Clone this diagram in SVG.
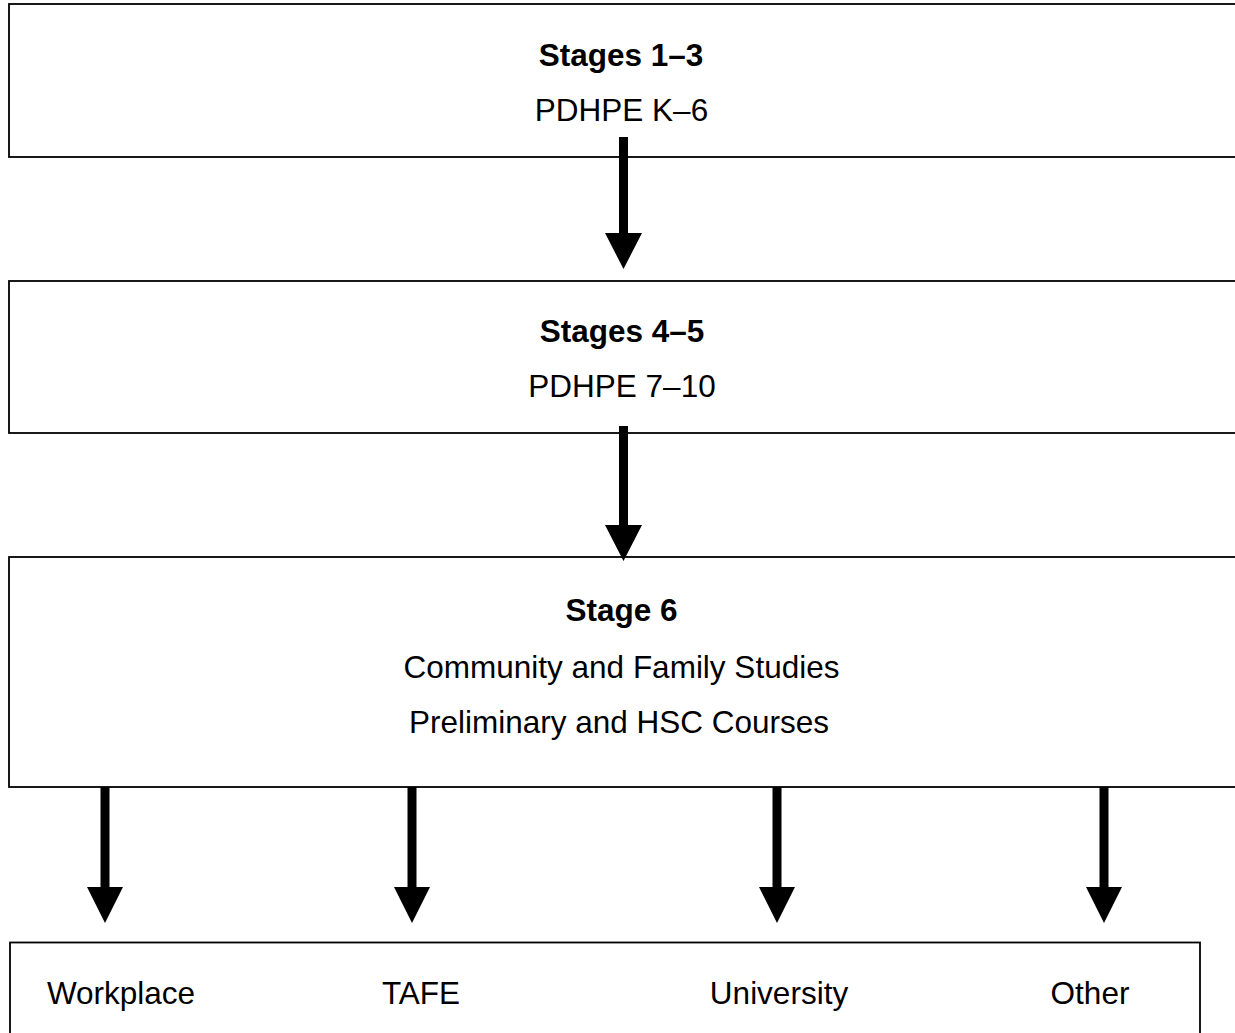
<svg xmlns="http://www.w3.org/2000/svg" width="1235" height="1033" viewBox="0 0 1235 1033">
<style>
.box{fill:#fff;stroke:#000;stroke-width:1.8}
.t{font-family:"Liberation Sans",Arial,sans-serif;font-size:31.5px;fill:#000;text-anchor:middle}
.b{font-weight:bold}
.arr{fill:#000;stroke:none}
</style>
<rect width="1235" height="1033" fill="#fff"/>
<g id="stages-1-3">
<rect class="box" x="9" y="4" width="1240" height="153"/>
<text class="t b" x="621" y="66">Stages 1–3</text>
<text class="t" x="621.5" y="121">PDHPE K–6</text>
</g>
<g id="stages-4-5">
<rect class="box" x="9" y="281" width="1240" height="152"/>
<text class="t b" x="622" y="342">Stages 4–5</text>
<text class="t" x="622" y="397">PDHPE 7–10</text>
</g>
<g id="stage-6">
<rect class="box" x="9" y="557" width="1240" height="230"/>
<text class="t b" x="621.5" y="621">Stage 6</text>
<text class="t" x="621.5" y="678">Community and Family Studies</text>
<text class="t" x="619" y="733">Preliminary and HSC Courses</text>
</g>
<g id="destinations">
<rect class="box" x="10" y="942.5" width="1190" height="100"/>
<text class="t" x="121" y="1004">Workplace</text>
<text class="t" x="421" y="1004">TAFE</text>
<text class="t" x="779" y="1004">University</text>
<text class="t" x="1090" y="1004">Other</text>
</g>
<g id="connectors">
<polygon class="arr" points="619,137 628,137 628,233 642,233 623.5,269 605,233 619,233"/>
<polygon class="arr" points="619,426 628,426 628,525 642,525 623.5,561 605,525 619,525"/>
<polygon class="arr" points="100.5,787 109.5,787 109.5,887 123,887 105,923 87,887 100.5,887"/>
<polygon class="arr" points="407.5,787 416.5,787 416.5,887 430,887 412,923 394,887 407.5,887"/>
<polygon class="arr" points="772.5,787 781.5,787 781.5,887 795,887 777,923 759,887 772.5,887"/>
<polygon class="arr" points="1099.5,787 1108.5,787 1108.5,887 1122,887 1104,923 1086,887 1099.5,887"/>
</g>
</svg>
